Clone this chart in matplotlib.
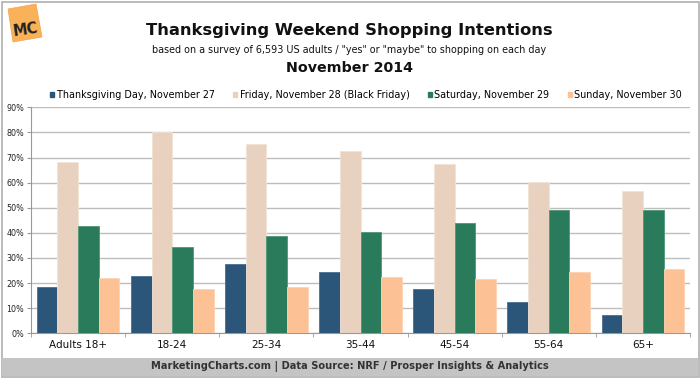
import matplotlib
matplotlib.use("Agg")
import matplotlib.pyplot as plt
import matplotlib.patches as mpatches
import numpy as np

categories = ["Adults 18+", "18-24", "25-34", "35-44", "45-54", "55-64", "65+"]
series_names = ["Thanksgiving Day, November 27", "Friday, November 28 (Black Friday)",
                "Saturday, November 29", "Sunday, November 30"]
thanksgiving = [18.4, 22.7, 27.7, 24.4, 17.5, 12.3, 7.2]
friday = [68.3, 80.0, 75.2, 72.6, 67.3, 60.3, 56.7]
saturday = [42.8, 34.2, 38.8, 40.5, 44.0, 49.0, 49.3]
sunday = [21.9, 17.5, 18.6, 22.3, 21.5, 24.6, 25.5]
yticks = [0, 10, 20, 30, 40, 50, 60, 70, 80, 90]

colors = ["#2B5579", "#E8D2BF", "#2A7B5C", "#FDC196"]
edges = ["#4A6F90", "#F2E3D6", "#4E9676", "#FDD3B3"]

W, H = 700, 378
fig = plt.figure(figsize=(7.0, 3.78), dpi=100)
fig.patch.set_facecolor("white")

def fx(px):
    return px / W

def fy(py):
    return 1 - py / H

def P(px, py):
    return (fx(px), fy(py))

# outer border
fig.add_artist(mpatches.Rectangle(P(1.5, 376.5), fx(697), 375 / H, transform=fig.transFigure,
                                  fill=False, edgecolor="#B0B0B0", linewidth=1.2))
# footer band
fig.add_artist(mpatches.Rectangle(P(2, 376), fx(696), 18 / H, transform=fig.transFigure,
                                  facecolor="#C4C4C4", edgecolor="none"))
fig.text(0.5, fy(366.5), "MarketingCharts.com | Data Source: NRF / Prosper Insights & Analytics",
         ha="center", va="center", fontsize=7.1, fontweight="bold", color="#333333")

# MC logo (tilted orange square)
sq = [P(8, 9), P(36, 4), P(42, 37), P(13, 42)]
fig.add_artist(mpatches.Polygon(sq, closed=True, transform=fig.transFigure,
                                facecolor="#F9B25A", edgecolor="#F3A24A", linewidth=0.5))
fig.text(fx(26), fy(30), "MC", ha="center", va="center", fontsize=10.5, fontweight="bold",
         color="#222222", rotation=8)

# titles
fig.text(fx(349), fy(30), "Thanksgiving Weekend Shopping Intentions", ha="center", va="center",
         fontsize=11.8, fontweight="bold", color="#111111")
fig.text(fx(349), fy(50), 'based on a survey of 6,593 US adults / "yes" or "maybe" to shopping on each day',
         ha="center", va="center", fontsize=6.9, color="#111111")
fig.text(fx(349), fy(68), "November 2014", ha="center", va="center", fontsize=10.3,
         fontweight="bold", color="#111111")

# axes
left, right, top, bottom = 31, 690, 107.3, 333.3
ax = fig.add_axes([fx(left), fy(bottom), fx(right - left), (bottom - top) / H])
ax.set_facecolor("white")

x = np.arange(len(categories))
bw = 0.22
data = [thanksgiving, friday, saturday, sunday]
for i, (vals, c, e, name) in enumerate(zip(data, colors, edges, series_names)):
    ax.bar(x + (i - 1.5) * bw, vals, width=bw, color=c, edgecolor=e, linewidth=0.6, label=name, zorder=3)

ax.set_xlim(-0.5, len(categories) - 0.5)
ax.set_ylim(0, 90)
ax.set_yticks(yticks)
ax.set_yticklabels([f"{v}%" for v in yticks], fontsize=5.8, color="#222222")
ax.yaxis.grid(True, color="#BDBDBD", linewidth=1.0, zorder=0)
ax.set_axisbelow(True)
ax.set_xticks(x)
ax.set_xticklabels(categories, fontsize=7.5, color="#111111")
ax.set_xticks(np.arange(-0.5, len(categories) + 0.5, 1), minor=True)
ax.tick_params(axis="x", which="major", length=0, pad=5)
ax.tick_params(axis="x", which="minor", length=3, color="#999999", direction="out")
ax.tick_params(axis="y", length=3, color="#999999", direction="out", pad=2)
for s in ["top", "right"]:
    ax.spines[s].set_visible(False)
ax.spines["left"].set_color("#999999")
ax.spines["bottom"].set_color("#999999")

# legend
handles = [mpatches.Patch(color=c) for c in colors]
leg = fig.legend(handles, series_names, loc="center", bbox_to_anchor=(fx(366), fy(95)), ncol=4,
                 frameon=False, fontsize=6.9, handlelength=0.45, handleheight=0.45, handletextpad=0.25,
                 columnspacing=1.9)

fig.savefig("out.png", dpi=100, facecolor="white")
